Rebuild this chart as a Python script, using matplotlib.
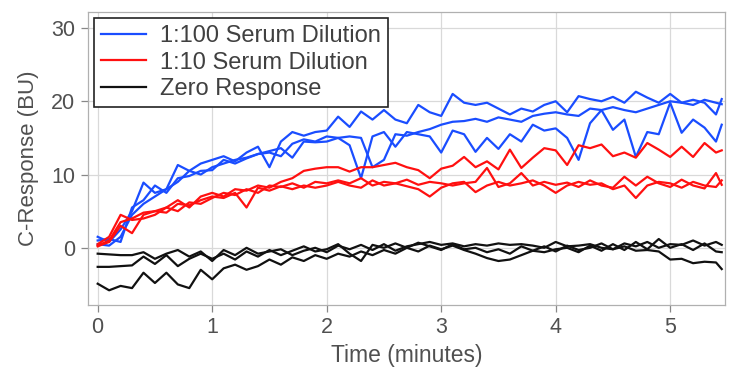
import matplotlib
matplotlib.use("Agg")
import matplotlib.pyplot as plt

time = [round(i * 0.1, 1) for i in range(55)] + [5.45]

blue_a = [1.5, 0.8, 2.5, 5.0, 8.9, 7.5, 8.0, 11.3, 10.5, 11.5,
          12.0, 12.5, 11.8, 13.0, 13.8, 11.0, 14.5, 15.8, 15.3, 15.8,
          16.0, 17.9, 16.5, 18.6, 17.5, 18.8, 17.5, 17.0, 19.5, 18.5,
          18.0, 21.0, 19.8, 19.5, 19.8, 19.0, 18.2, 19.0, 18.6, 19.5,
          20.0, 18.5, 20.7, 20.3, 20.0, 20.6, 19.8, 21.3, 20.5, 19.8,
          21.0, 19.8, 20.2, 19.8, 18.2, 20.3]
blue_b = [0.5, 0.3, 1.5, 4.5, 6.0, 7.0, 8.0, 9.0, 10.5, 10.0,
          11.0, 11.5, 12.0, 12.3, 12.8, 13.2, 13.6, 12.3, 14.5, 14.4,
          14.5, 15.0, 15.2, 15.0, 11.0, 12.0, 15.5, 15.3, 15.8, 16.2,
          16.8, 17.2, 17.3, 17.6, 17.2, 17.8, 17.5, 17.2, 18.0, 18.3,
          18.5, 18.2, 18.0, 19.0, 18.8, 19.2, 18.8, 18.5, 19.0, 19.5,
          20.0, 19.8, 19.5, 20.2, 19.8, 19.6]
blue_c = [1.0, 1.2, 0.8, 5.5, 6.5, 8.5, 7.5, 9.5, 9.8, 10.5,
          10.6, 12.0, 11.5, 12.2, 12.8, 13.0, 12.5, 14.2, 14.8, 14.5,
          15.2, 15.0, 14.0, 9.5, 15.2, 15.8, 13.8, 15.8, 15.5, 15.2,
          13.0, 16.0, 15.5, 13.1, 15.0, 13.5, 15.5, 14.5, 16.8, 16.0,
          16.3, 15.0, 12.0, 17.0, 18.8, 16.1, 17.5, 12.4, 15.8, 15.5,
          19.8, 15.7, 17.5, 16.4, 14.5, 16.8]

red_u = [0.3, 1.0, 3.5, 4.0, 4.8, 5.0, 5.5, 6.5, 5.5, 7.0,
         7.5, 7.0, 8.0, 7.8, 8.5, 8.2, 9.0, 9.5, 10.5, 10.8,
         11.0, 11.0, 10.4, 11.0, 11.0, 11.3, 11.6, 11.0, 10.6, 9.5,
         10.8, 11.2, 12.4, 11.0, 11.8, 10.7, 13.4, 10.9, 12.3, 13.6,
         13.3, 11.3, 14.0, 13.6, 14.1, 12.5, 13.0, 12.3, 14.3, 13.4,
         12.4, 13.8, 12.4, 14.3, 13.0, 13.3]
red_l1 = [0.5, 1.5, 4.5, 3.8, 4.0, 4.5, 5.5, 5.0, 6.2, 6.0,
          6.8, 7.5, 7.2, 8.0, 7.5, 8.5, 8.3, 8.8, 8.2, 9.0,
          8.8, 9.2, 8.8, 9.5, 8.5, 9.0, 8.8, 9.3, 8.6, 9.0,
          8.8, 8.5, 8.8, 9.0, 10.9, 8.3, 8.8, 10.2, 8.5, 9.0,
          8.6, 8.9, 8.3, 9.2, 8.5, 8.2, 9.7, 8.5, 9.7, 8.8,
          8.3, 9.3, 8.5, 8.1, 10.2, 8.6]
red_l2 = [0.2, 0.8, 3.0, 2.0, 4.5, 5.0, 4.8, 6.0, 5.8, 6.5,
          7.0, 6.8, 7.5, 5.5, 8.2, 7.8, 8.4, 8.0, 8.5, 8.2,
          8.5, 9.0, 8.5, 8.2, 9.2, 8.5, 8.8, 8.4, 8.0, 7.0,
          8.2, 8.8, 9.0, 7.6, 8.5, 9.0, 8.5, 8.8, 9.2, 8.5,
          7.5, 8.5, 9.0, 8.6, 8.8, 8.0, 8.5, 6.8, 8.5, 9.0,
          8.8, 8.2, 9.0, 8.5, 8.3, 9.2]

black_1 = [-0.8, -0.9, -1.0, -1.0, -0.6, -1.5, -0.8, -0.3, -1.2, -0.5,
           -1.8, -0.3, -1.0, 0.0, -0.8, -0.5, -0.2, -1.0, -0.4, 0.0,
           -0.6, 0.3, -0.2, 0.4, -0.3, 0.5, -0.4, 0.2, 0.5, 0.8,
           0.4, 0.6, 0.2, 0.5, 0.3, 0.6, 0.4, 0.5, 0.3, 0.0,
           0.8, 0.2, 0.3, 0.5, 0.0, -0.2, 0.6, 0.2, 0.8, 0.0,
           0.5, 0.4, 1.0, 0.3, 0.8, 0.4]
black_2 = [-2.6, -2.6, -2.5, -2.4, -1.2, -2.2, -1.0, -2.5, -1.5, -0.8,
           -1.5, -0.8, -1.6, -0.5, -1.2, -0.3, -1.0, -0.4, 0.2, -0.5,
           -0.2, 0.5, -0.8, -1.8, 0.4, 0.0, 0.6, 0.0, 0.7, 0.2,
           -0.3, 0.5, -0.2, 0.0, -0.6, -0.2, -0.8, 0.2, -0.4, -0.6,
           -0.2, 0.0, -0.6, 0.3, -0.4, 0.5, -0.3, 0.8, -0.2, 1.2,
           0.0, 0.5, -0.3, 0.6, -0.5, -0.6]
black_3 = [-4.9, -5.8, -5.2, -5.5, -3.4, -4.8, -3.4, -5.0, -5.5, -3.0,
           -4.3, -2.8, -2.3, -3.0, -2.5, -1.6, -2.3, -1.3, -1.8, -1.0,
           -1.5, -0.8, -1.2, -0.5, -1.0, -0.3, -0.8, 0.0, -0.5, 0.3,
           -0.2, 0.3, -0.3, -0.8, -1.4, -1.8, -1.6, -1.0, -0.4, 0.2,
           -0.5, 0.3, -0.3, 0.0, 0.6, -0.2, 0.2, -0.4, -0.3, -0.5,
           -1.6, -1.5, -2.1, -1.9, -2.0, -2.9]

series = [
    ("1:100 Serum Dilution", "#1a4dff", [blue_a, blue_b, blue_c]),
    ("1:10 Serum Dilution", "#ff1010", [red_u, red_l1, red_l2]),
    ("Zero Response", "#111111", [black_1, black_2, black_3]),
]

x_ticks = [0, 1, 2, 3, 4, 5]
y_ticks = [0, 10, 20, 30]

plt.rcParams['font.family'] = ['Liberation Sans', 'DejaVu Sans']

fig = plt.figure(figsize=(7.31, 3.71), dpi=100)
ax = fig.add_axes([0.12, 0.178, 0.872, 0.79])

for label, color, lines in series:
    for i, ys in enumerate(lines):
        ax.plot(time, ys, color=color, lw=1.6, label=label if i == 0 else None,
                solid_joinstyle='round')

ax.set_xlim(-0.087, 5.48)
ax.set_ylim(-7.8, 32.2)
ax.set_xticks(x_ticks)
ax.set_yticks(y_ticks)
ax.grid(True, color='#d9d9d9', lw=0.9)
ax.set_axisbelow(True)
for s in ax.spines.values():
    s.set_color('#b0b0b0')
    s.set_linewidth(0.9)
ax.tick_params(direction='out', length=5, width=0.9, color='#888888',
               labelsize=15.5, labelcolor='#505050', pad=4)
ax.set_xlabel("Time (minutes)", fontsize=16.5, color='#505050', labelpad=4)
ax.set_ylabel("C-Response (BU)", fontsize=16, color='#505050', labelpad=9)

leg = ax.legend(loc='upper left', fontsize=17, frameon=True, fancybox=False,
                edgecolor='#222222', framealpha=1, borderpad=0.3,
                labelspacing=0.2, handlelength=1.9, handletextpad=0.6,
                borderaxespad=0.25)
leg.get_frame().set_linewidth(1.2)
for t in leg.get_texts():
    t.set_color('#404040')

fig.savefig("out.png", dpi=100)
